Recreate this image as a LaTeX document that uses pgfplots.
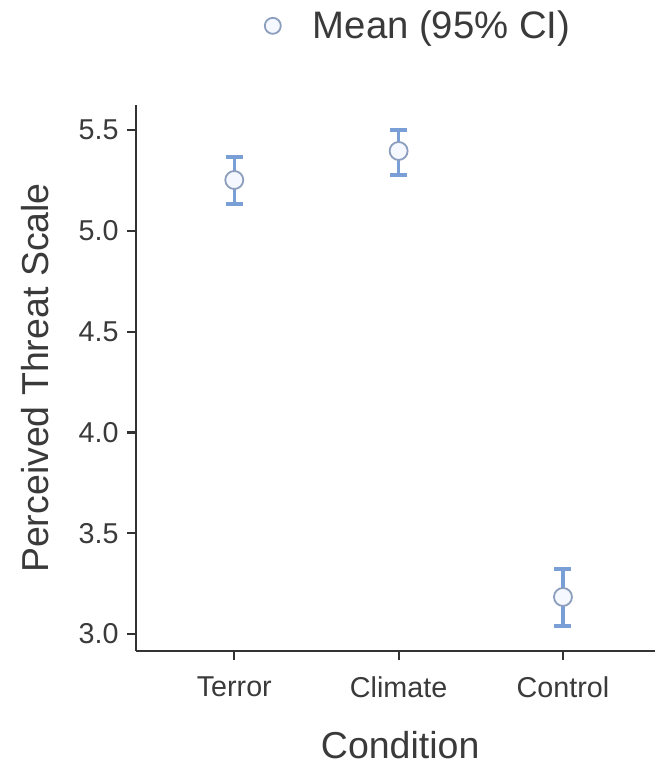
\documentclass[border=0pt]{standalone}
\usepackage{fontspec}
\setmainfont{Liberation Sans}
\usepackage{pgfplots}
\pgfplotsset{compat=1.18}
\definecolor{txt}{HTML}{3A3A3A}
\definecolor{axl}{HTML}{333333}
\definecolor{errblue}{HTML}{7A9FD6}
\definecolor{mkedge}{HTML}{8C9EBD}
\definecolor{mkfill}{HTML}{F5F8FE}

\begin{document}
\begin{tikzpicture}
\begin{axis}[
    name=ax,
    scale only axis,
    width=519pt, height=546pt,
    xmin=0.402, xmax=3.56,
    ymin=2.916, ymax=5.624,
    axis x line*=bottom, axis y line*=left,
    axis line style={line width=2.2pt, color=axl},
    xtick={1,2,3},
    xticklabels={Terror, Climate, Control},
    ytick={3,3.5,4,4.5,5,5.5},
    yticklabel style={xshift=-5pt, /pgf/number format/.cd, fixed, fixed zerofill, precision=1},
    /pgf/number format/assume math mode=true,
    tick align=outside,
    major tick length=9pt,
    tick style={line width=2.2pt, color=axl},
    tick label style={font=\fontsize{28.7}{32}\selectfont, color=txt},
    xticklabel style={yshift=-13pt},
    xlabel={Condition},
    ylabel={Perceived Threat Scale},
    every axis x label/.style={at={(axis description cs:0.509,-0.172)}, anchor=center,
        font=\fontsize{37.5}{42}\selectfont, color=txt},
    every axis y label/.style={at={(axis description cs:-0.195,0.5)}, anchor=center, rotate=90,
        font=\fontsize{37.5}{42}\selectfont, color=txt},
    clip=false,
    legend style={at={(axis description cs:0.242,1.145)}, anchor=west, draw=none,
        fill=none, font=\fontsize{38.3}{42}\selectfont, text=txt},
    legend cell align=left,
    legend image code/.code={
        \draw[#1, only marks, mark size=8pt] plot coordinates {(0pt,0pt)};
        \path[draw=none, fill=none] (-8pt,0pt) rectangle (38pt,0pt);
    },
]
\addplot[forget plot, draw=none, mark=none,
    error bars/.cd, y dir=both, y explicit, error mark=|,
    error bar style={line width=3.5pt, color=errblue},
    error mark options={line width=3.5pt, color=errblue, mark size=8.5pt}]
    coordinates {
    (1, 5.252) -= (0, 0.119) += (0, 0.114)
    (2, 5.396) -= (0, 0.119) += (0, 0.104)
    (3, 3.184) -= (0, 0.144) += (0, 0.138)
};
\addplot[only marks, mark=*, mark size=9pt,
    mark options={draw=mkedge, fill=mkfill, line width=1.8pt}]
    coordinates {
    (1, 5.252)
    (2, 5.396)
    (3, 3.184)
};
\addlegendentry{Mean (95\% CI)}
\coordinate (O) at (rel axis cs:0,0);
\end{axis}
\pgfresetboundingbox
\path[use as bounding box] (O) ++(-136pt,-114pt) rectangle ++(657pt,765pt);
\end{tikzpicture}
\end{document}
